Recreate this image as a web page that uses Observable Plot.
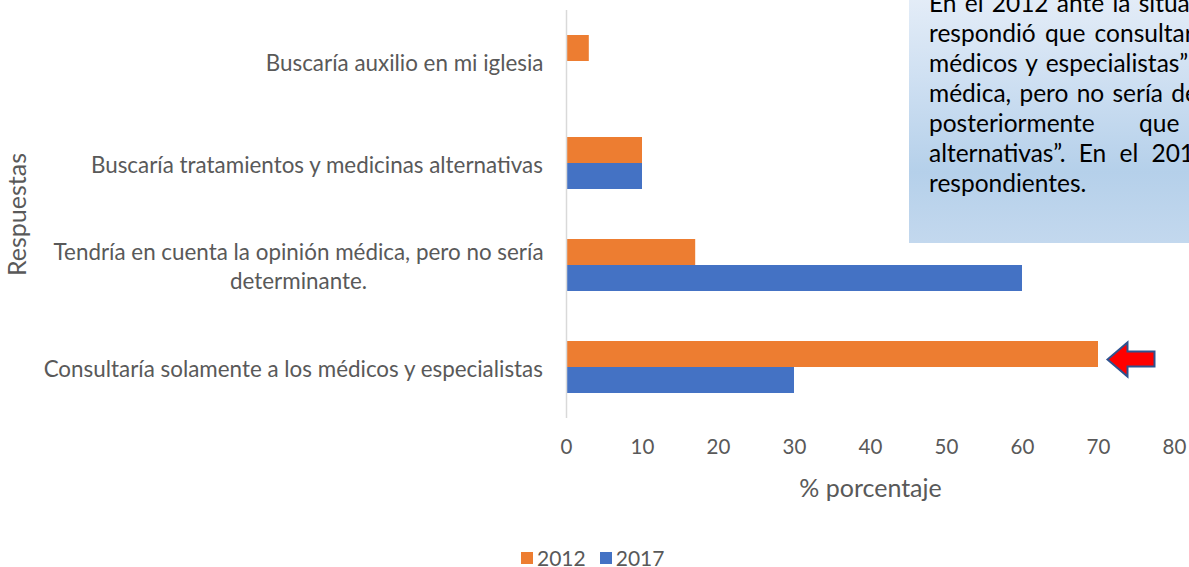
<!DOCTYPE html>
<html>
<head>
<meta charset="utf-8">
<script src="https://cdn.jsdelivr.net/npm/d3@7"></script>
<script src="https://cdn.jsdelivr.net/npm/@observablehq/plot@0.6"></script>
<style>
  html, body { margin: 0; padding: 0; background: #fff; overflow: hidden; width: 1189px; height: 567px; }
  #wrap { position: relative; width: 1189px; height: 567px; overflow: hidden; font-family: Lato, sans-serif; }
  #chart { position: absolute; left: 0; top: 0; }
  #note { position: absolute; left: 909px; top: -12px; width: 400px; height: 255px;
          background: linear-gradient(to bottom, #e6eef8 0%, #cfe0f2 35%, #b5d0ea 72%, #c3d8ee 100%); }
  #note div { position: absolute; left: 20px; white-space: pre; font-size: 24.5px; color: #000; line-height: 1; }
  #legend { position: absolute; top: 545px; left: 521px; display: flex; align-items: center; font-size: 21px; color: #595959; }
  #legend .sw { width: 12px; height: 12px; display: inline-block; margin-right: 4px; }
  #legend .item { display: flex; align-items: center; margin-right: 14px; }
</style>
</head>
<body>
<div id="wrap">
  <div id="chart"></div>
  <div id="note"></div>
  <div id="legend"></div>
</div>
<script>
// ---- data ----
const categories = [
  "Buscaría auxilio en mi iglesia",
  "Buscaría tratamientos y medicinas alternativas",
  "Tendría en cuenta la opinión médica, pero no sería determinante.",
  "Consultaría solamente a los médicos y especialistas"
];
const categoryLines = [
  ["Buscaría auxilio en mi iglesia"],
  ["Buscaría tratamientos y medicinas alternativas"],
  ["Tendría en cuenta la opinión médica, pero no sería", "determinante."],
  ["Consultaría solamente a los médicos y especialistas"]
];
const years = ["2012", "2017"];
const yearColors = ["#ED7D31", "#4472C4"];
const values2012 = [3, 10, 17, 70];
const values2017 = [0, 10, 60, 30];
const xTicks = [0, 10, 20, 30, 40, 50, 60, 70, 80];
const xLabel = "% porcentaje";
const yLabel = "Respuestas";
const highlightCategory = categories[3];
const noteLines = [
  "En el 2012 ante la situación",
  "respondió que consultaría",
  "médicos y especialistas”",
  "médica, pero no sería determinante",
  "posteriormente que",
  "alternativas”. En el 2017",
  "respondientes."
];
const noteSpacing = [2, 3, 2, 2, 38, 7, 2];

// ---- build rows ----
const rows = categories.flatMap((c, i) => [
  {category: c, year: years[0], value: values2012[i]},
  {category: c, year: years[1], value: values2017[i]}
]);

const gray = "#595959";
const labelSize = 22.4;
const tickSize = 20.5;
const titleSize = 25;
const ctx = document.createElement("canvas").getContext("2d");
ctx.font = `${labelSize}px Lato`;

const labelMarks = categories.map((c, i) => {
  const lines = categoryLines[i];
  const w = Math.max(...lines.map(l => ctx.measureText(l).width));
  return Plot.text([c], {
    y: d => d, text: () => lines.join("\n"),
    frameAnchor: "left", textAnchor: "middle", lineAnchor: "middle",
    dx: -23 - w / 2, lineHeight: 29 / labelSize, fontSize: labelSize, fill: gray
  });
});

const arrowSymbol = {
  draw(context) {
    context.moveTo(-23, 0);
    context.lineTo(-3, -17);
    context.lineTo(-3, -8);
    context.lineTo(24, -8);
    context.lineTo(24, 7);
    context.lineTo(-3, 7);
    context.lineTo(-3, 17);
    context.closePath();
  }
};

const chart = Plot.plot({
  width: 1189,
  height: 530,
  marginLeft: 566,
  marginRight: 15,
  marginTop: 10,
  marginBottom: 112,
  style: {fontFamily: "Lato, sans-serif", color: gray, background: "transparent"},
  x: {domain: [0, 80], label: null},
  y: {domain: categories, padding: 0, axis: null, label: null},
  color: {domain: years, range: yearColors},
  marks: [
    Plot.barX(rows.filter(d => d.year === years[0]), {x: "value", y: "category", fill: "year", insetTop: 25, insetBottom: 51}),
    Plot.barX(rows.filter(d => d.year === years[1] && d.value > 0), {x: "value", y: "category", fill: "year", insetTop: 51, insetBottom: 25}),
    Plot.ruleX([0], {stroke: "#d9d9d9", strokeWidth: 1.5}),
    Plot.axisX({ticks: xTicks, tickSize: 0, tickPadding: 21, fontSize: tickSize, fill: gray, label: null}),
    ...labelMarks,
    Plot.text([xLabel], {frameAnchor: "bottom", lineAnchor: "middle", textAnchor: "middle", dy: 70, fontSize: titleSize, fill: gray}),
    Plot.text([yLabel], {frameAnchor: "left", lineAnchor: "middle", textAnchor: "middle", rotate: -90, dx: -549, fontSize: titleSize, fill: gray}),
    Plot.dot(rows.filter(d => d.category === highlightCategory && d.year === years[0]), {
      x: "value", y: "category", symbol: arrowSymbol, r: 10, dx: 32, dy: -8,
      fill: "#ff0000", stroke: "#2f528f", strokeWidth: 2
    })
  ]
});
document.getElementById("chart").appendChild(chart);

// ---- annotation box ----
const note = document.getElementById("note");
noteLines.forEach((t, i) => {
  const d = document.createElement("div");
  d.textContent = t;
  d.style.top = (12 + 171 - (6 - i) * 30) + "px";
  d.style.wordSpacing = noteSpacing[i] + "px";
  note.appendChild(d);
});

// ---- legend ----
const legend = document.getElementById("legend");
years.forEach((y, i) => {
  const item = document.createElement("span");
  item.className = "item";
  const sw = document.createElement("span");
  sw.className = "sw";
  sw.style.background = yearColors[i];
  item.appendChild(sw);
  item.appendChild(document.createTextNode(y));
  legend.appendChild(item);
});
</script>
</body>
</html>
